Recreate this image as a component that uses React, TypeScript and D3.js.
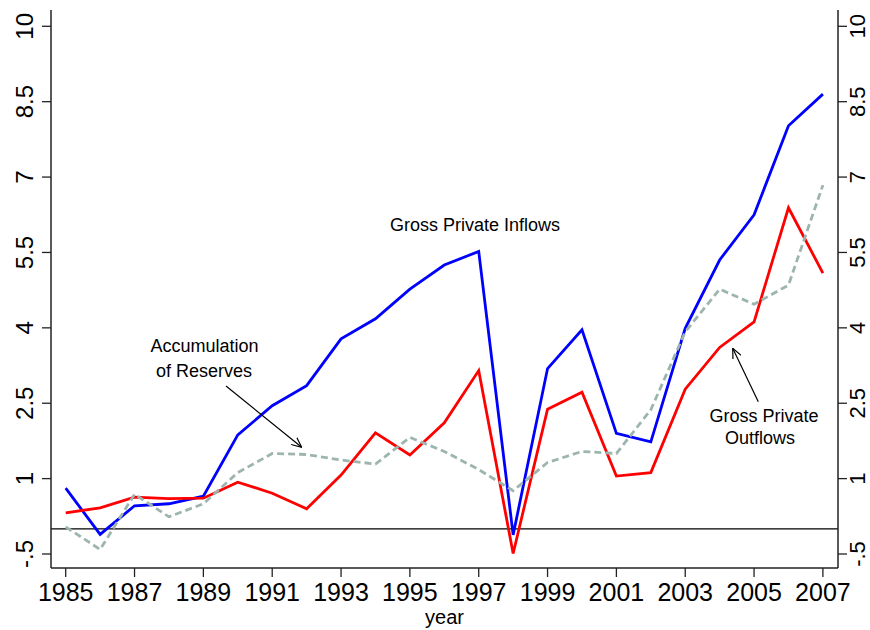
import React from "react";
import * as d3 from "d3";

const years = [1985, 1986, 1987, 1988, 1989, 1990, 1991, 1992, 1993, 1994, 1995, 1996, 1997, 1998, 1999, 2000, 2001, 2002, 2003, 2004, 2005, 2006, 2007];
const inflows = [0.81, -0.11, 0.46, 0.5, 0.65, 1.87, 2.45, 2.85, 3.78, 4.18, 4.77, 5.25, 5.52, -0.12, 3.19, 3.96, 1.9, 1.73, 3.99, 5.35, 6.25, 8.02, 8.65];
const outflows = [0.32, 0.42, 0.63, 0.6, 0.61, 0.93, 0.71, 0.4, 1.07, 1.91, 1.47, 2.11, 3.15, -0.49, 2.38, 2.72, 1.05, 1.12, 2.78, 3.61, 4.12, 6.39, 5.09];
const reserves = [0.04, -0.41, 0.69, 0.24, 0.5, 1.12, 1.5, 1.48, 1.37, 1.29, 1.82, 1.54, 1.18, 0.76, 1.32, 1.54, 1.5, 2.37, 3.92, 4.77, 4.47, 4.85, 6.84];
const yTicks = [-0.5, 1, 2.5, 4, 5.5, 7, 8.5, 10];
const xTicks = [1985, 1987, 1989, 1991, 1993, 1995, 1997, 1999, 2001, 2003, 2005, 2007];

const FONT = "'Liberation Sans', Arial, Helvetica, sans-serif";

export default function App() {
  const W = 870, H = 630;
  const left = 51, right = 838, top = 10, bottom = 568;
  const x = d3.scaleLinear().domain([1985, 2007]).range([65.7, 822.9]);
  const y = d3.scaleLinear().domain([-0.5, 10]).range([554, 26.3]);
  const line = d3.line<number>().x((_, i) => x(years[i])).y((d) => y(d));
  const fmt = (v: number) => (v === -0.5 ? "-.5" : String(v));
  const axisColor = "#222";
  return (
    <svg width={W} height={H} style={{ position: "absolute", left: 0, top: 0, background: "#fff" }} fontFamily={FONT}>
      <defs>
        <marker id="arr" viewBox="0 0 10 10" refX="10" refY="5" markerWidth="10" markerHeight="10" markerUnits="userSpaceOnUse" orient="auto">
          <path d="M0,0.5 L10,5 L0,9.5" fill="none" stroke="#000" strokeWidth={1.2} />
        </marker>
      </defs>
      <rect x={0} y={0} width={W} height={H} fill="#fff" />
      <line x1={left} x2={right} y1={y(0)} y2={y(0)} stroke="#000" strokeWidth={1.3} />
      <line x1={left} x2={left} y1={top} y2={bottom} stroke={axisColor} strokeWidth={1.5} />
      <line x1={right} x2={right} y1={top} y2={bottom} stroke={axisColor} strokeWidth={1.5} />
      <line x1={left} x2={right} y1={bottom} y2={bottom} stroke={axisColor} strokeWidth={1.5} />
      {yTicks.map((v) => (
        <g key={"yl" + v}>
          <line x1={left - 9} x2={left} y1={y(v)} y2={y(v)} stroke={axisColor} strokeWidth={1.3} />
          <text transform={`translate(33,${y(v)}) rotate(-90)`} textAnchor="middle" fontSize={24} fill="#000">{fmt(v)}</text>
          <line x1={right} x2={right + 9} y1={y(v)} y2={y(v)} stroke={axisColor} strokeWidth={1.3} />
          <text transform={`translate(865,${y(v)}) rotate(-90)`} textAnchor="middle" fontSize={22} fill="#000">{fmt(v)}</text>
        </g>
      ))}
      {xTicks.map((t) => (
        <g key={"xt" + t}>
          <line x1={x(t)} x2={x(t)} y1={bottom} y2={bottom + 9} stroke={axisColor} strokeWidth={1.3} />
          <text x={x(t)} y={601} textAnchor="middle" fontSize={25} fill="#000">{t}</text>
        </g>
      ))}
      <text x={(left + right) / 2} y={624} textAnchor="middle" fontSize={20} fill="#000">year</text>
      <path d={line(inflows) || ""} fill="none" stroke="#0000ff" strokeWidth={2.8} strokeLinejoin="miter" />
      <path d={line(outflows) || ""} fill="none" stroke="#ff0000" strokeWidth={2.8} strokeLinejoin="miter" />
      <path d={line(reserves) || ""} fill="none" stroke="#9db5ae" strokeWidth={2.8} strokeDasharray="7,4" />
      <text x={475} y={231} textAnchor="middle" fontSize={18} fill="#000">Gross Private Inflows</text>
      <text x={204.5} y={352} textAnchor="middle" fontSize={18} fill="#000">Accumulation</text>
      <text x={204} y={377} textAnchor="middle" fontSize={18} fill="#000">of Reserves</text>
      <line x1={226} y1={386} x2={301.7} y2={447.3} stroke="#000" strokeWidth={1.2} markerEnd="url(#arr)" />
      <text x={764} y={422} textAnchor="middle" fontSize={18} fill="#000">Gross Private</text>
      <text x={760} y={444} textAnchor="middle" fontSize={18} fill="#000">Outflows</text>
      <line x1={758.3} y1={401.7} x2={732.7} y2={348.3} stroke="#000" strokeWidth={1.2} markerEnd="url(#arr)" />
    </svg>
  );
}
